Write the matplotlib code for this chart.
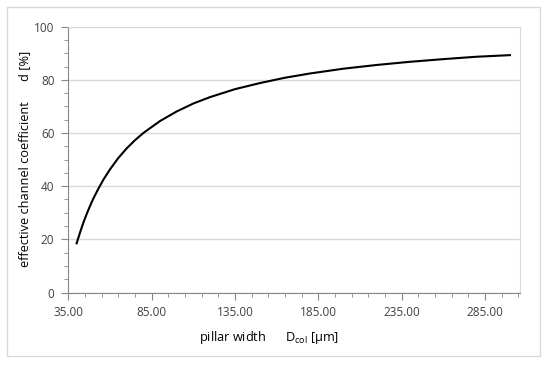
import matplotlib
matplotlib.use("Agg")
import matplotlib.pyplot as plt
import numpy as np

pillar_width = [40, 42, 44, 46, 48, 50, 53, 56, 60, 65, 70, 75, 80, 90, 100, 110,
                120, 135, 150, 165, 180, 200, 220, 240, 260, 280, 300]
channel_coef = [18.5, 22.5, 26.2, 29.5, 32.5, 35.3, 39.0, 42.4, 46.3, 50.6, 54.2, 57.3, 60.0, 64.5, 68.1, 71.1,
                73.5, 76.5, 78.8, 80.8, 82.4, 84.2, 85.6, 86.8, 87.8, 88.7, 89.3]

x_major = [35, 85, 135, 185, 235, 285]
y_major = [0, 20, 40, 60, 80, 100]

plt.rcParams['font.family'] = ['Open Sans', 'DejaVu Sans']

fig = plt.figure(figsize=(5.5, 3.65), dpi=100)
ax = fig.add_axes([68.3/550, 1-292.5/365, (520-68.3)/550, (292.5-26.7)/365])

ax.plot(pillar_width, channel_coef, color='black', lw=1.5)

ax.set_xlim(35, 306)
ax.set_ylim(0, 100)
ax.set_xticks(x_major)
ax.set_xticks(np.arange(35, 306, 10), minor=True)
ax.set_xticklabels(["%.2f" % v for v in x_major])
ax.set_yticks(y_major)
ax.set_yticks(np.arange(0, 101, 5), minor=True)

ax.grid(axis='y', which='major', color='#d9d9d9', lw=1)
ax.set_axisbelow(True)
for s in ['left', 'bottom']:
    ax.spines[s].set_color('#868686')
for s in ['right', 'top']:
    ax.spines[s].set_color('#d9d9d9')
ax.tick_params(which='major', length=5, color='#868686', labelsize=8.5, labelcolor='#404040', pad=5)
ax.tick_params(which='minor', length=3, color='#868686')

fig.text((202+337)/2/550, 1-338/365, "pillar width      D$_\\mathregular{col}$ [µm]",
         ha='center', va='center', fontsize=9.2)
fig.text(25/550, 1-159/365, "effective channel coefficient      d [%]",
         ha='center', va='center', rotation=90, fontsize=9.2)

# chart area border
border = plt.Rectangle((7.3/550, 1-355.7/365), (540-7.3)/550, (355.7-7.3)/365,
                       transform=fig.transFigure, fill=False, edgecolor='#d9d9d9', lw=1)
fig.patches.append(border)

fig.savefig("out.png", dpi=100)
